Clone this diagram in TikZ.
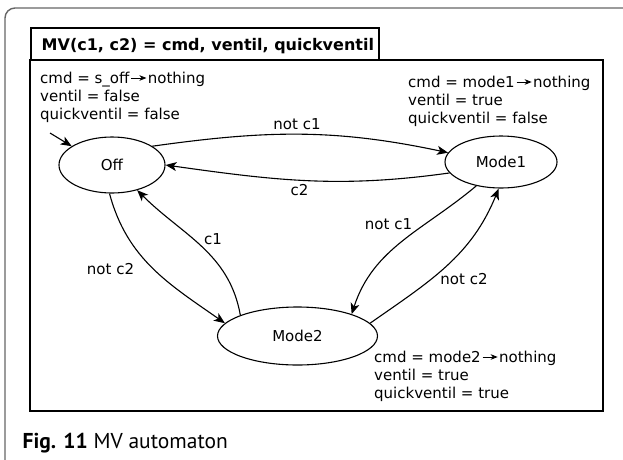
\documentclass[tikz,border=0pt]{standalone}
\usepackage{fontspec}
\setmainfont{DejaVu Sans}
\newfontfamily\capfont{PT Sans}
\usetikzlibrary{arrows.meta,shapes.geometric}

% small inline arrow used inside the state annotations
\newcommand\leadsarrow{\hspace{1.5pt}\tikz[baseline=0pt]\draw[line width=0.9pt,-{Stealth[length=7pt,width=5.5pt,inset=2pt]}] (0pt,5pt) -- (15pt,5pt);\hspace{1pt}}

\begin{document}
\begin{tikzpicture}[x=1pt,y=-1pt,
  state/.style={ellipse,draw,line width=1.1pt,inner sep=0pt,font=\fontsize{15}{18}\selectfont},
  lbl/.style={font=\fontsize{15}{18}\selectfont,inner sep=0pt,anchor=base},
  note/.style={lbl,anchor=base west},
  trans/.style={line width=1.1pt,-{Stealth[length=11pt,width=9pt,inset=3pt]}},
]
\useasboundingbox (0,0) rectangle (623,459);
\fill[white] (0,0) rectangle (623,459);

% page frame (open to the right and bottom)
\draw[black!60, line width=1.4pt, rounded corners=10pt] (5,480) -- (5,8) -- (640,8);

% title box and diagram box
\draw[line width=1.6pt] (31,28) rectangle (379,60);
\node[anchor=base west, inner sep=0pt, font=\bfseries\fontsize{16}{18}\selectfont] (title) at (41.5,50) {MV(c1, c2) = cmd, ventil, quickventil};
\draw[line width=1.8pt] (30,60) rectangle (603,411);

% states
\node[state,minimum width=106pt,minimum height=56pt] (off) at (112,165) {Off};
\node[state,minimum width=112pt,minimum height=52pt] (m1) at (501,162) {Mode1};
\node[state,minimum width=160pt,minimum height=58pt] (m2) at (297.5,336) {Mode2};

% state annotations
\node[note] (offa) at (40,83) {cmd = s\_off\leadsarrow nothing};
\node[note] (offb) at (40,101) {ventil = false};
\node[note] (offc) at (40,119) {quickventil = false};

\node[note] (m1a) at (408,87) {cmd = mode1\leadsarrow nothing};
\node[note] (m1b) at (408,105) {ventil = true};
\node[note] (m1c) at (408,123) {quickventil = false};

\node[note] (m2a) at (374,362) {cmd = mode2\leadsarrow nothing};
\node[note] (m2b) at (374,380) {ventil = true};
\node[note] (m2c) at (374,398) {quickventil = true};

% initial marker
\coordinate (init) at (50,133);
\draw[trans] (init) -- (off.155);

% transitions
\draw[trans] (off.25) to[out=8,in=168] (m1.170);
\draw[trans] (m1.192) to[out=188,in=-8] (off.0);
\draw[trans] (off.265) to[out=-75,in=145] (m2.170);
\draw[trans] (m2.160) to[out=100,in=-45] (off.-45);
\draw[trans] (m1.224) to[out=220,in=72] (m2.22);
\draw[trans] (m2.10) to[out=35,in=248] (m1.265);

% transition labels
\node[lbl] (t1) at (297,129) {not c1};
\node[lbl] (t2) at (299.5,195) {c2};
\node[lbl] (t3) at (110.5,274) {not c2};
\node[lbl] (t4) at (213,244) {c1};
\node[lbl] (t5) at (388.5,229) {not c1};
\node[lbl] (t6) at (464,284) {not c2};

% caption
\node[anchor=base west, inner sep=0pt, font=\capfont\fontsize{21.5}{24}\selectfont] (cap) at (22.5,448) {\textbf{Fig. 11} MV automaton};
\end{tikzpicture}
\end{document}
